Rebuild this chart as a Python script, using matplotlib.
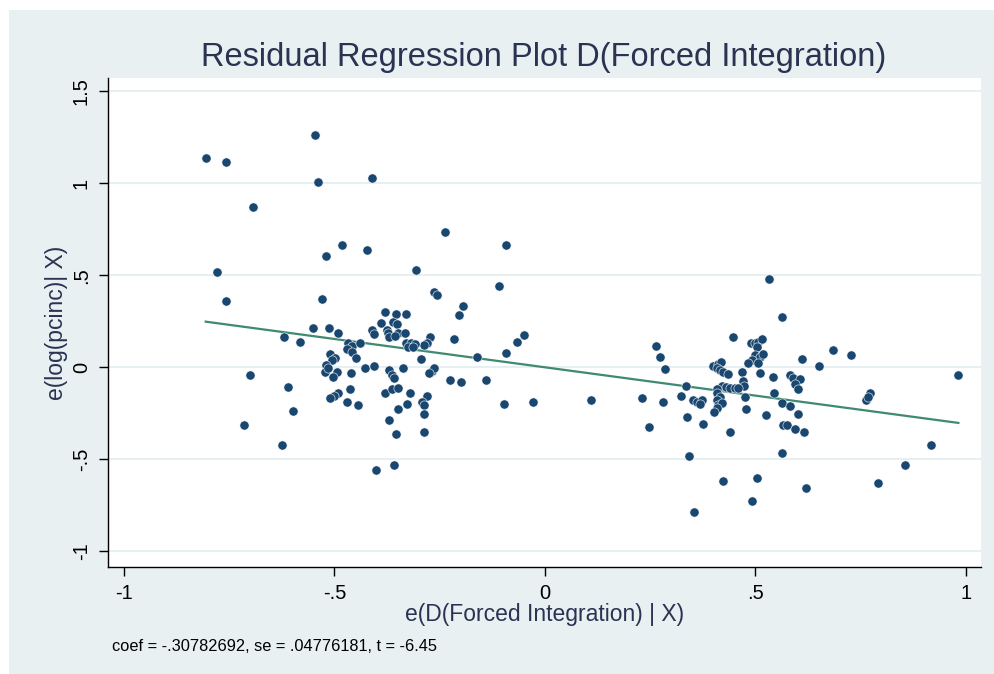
import numpy as np
import matplotlib.pyplot as plt
from matplotlib.patches import Rectangle

plt.rcParams["font.family"] = ["Liberation Sans", "DejaVu Sans"]

# residuals
x_resid = [
    -0.806, -0.758, -0.546, -0.539, -0.412, -0.694, -0.237, -0.778, -0.758, -0.519,
    -0.481, -0.423, -0.529, -0.306, -0.264, -0.257, -0.379, -0.353, -0.331,
    -0.092, -0.109, -0.194, -0.204, -0.215, -0.050, -0.067, -0.093, -0.162,
    -0.225, -0.199, -0.140, -0.098, -0.029, 0.110, 0.264, 0.273, 0.286,
    0.231, 0.280, 0.322, 0.334, 0.352, 0.360, 0.337,
    -0.619, -0.582, -0.550, -0.513, -0.491, -0.700, -0.610, -0.598, -0.716,
    -0.624, -0.401, -0.359,
    -0.361, -0.352, -0.390, -0.412, -0.407, -0.376, -0.372, -0.348, -0.333,
    -0.371, -0.356, -0.274, -0.281, -0.287, -0.331, -0.318, -0.309, -0.325,
    -0.313, -0.467, -0.459, -0.439, -0.471, -0.459, -0.449, -0.511, -0.499,
    -0.507, -0.519, -0.523, -0.515, -0.495, -0.503, -0.461, -0.428, -0.406,
    -0.371, -0.363, -0.358, -0.337, -0.295, -0.269, -0.264, -0.275, -0.462,
    -0.491, -0.500, -0.511, -0.470, -0.443, -0.380, -0.364, -0.348, -0.321,
    -0.281, -0.293, -0.287, -0.327, -0.350, -0.287, -0.370, -0.354, -0.287,
    0.531, 0.562, 0.446, 0.489, 0.499, 0.507, 0.515, 0.503, 0.610, 0.499,
    0.511, 0.517, 0.491, 0.483, 0.507, 0.511, 0.400, 0.410, 0.418, 0.408,
    0.416, 0.424, 0.435, 0.467, 0.471, 0.473, 0.541, 0.582, 0.590, 0.606,
    0.595, 0.602, 0.420, 0.430, 0.409, 0.439, 0.451, 0.459, 0.408, 0.416,
    0.408, 0.475, 0.545, 0.372, 0.368, 0.412, 0.420, 0.408, 0.401, 0.477,
    0.562, 0.582, 0.600, 0.524, 0.376, 0.248, 0.439, 0.566, 0.574, 0.594,
    0.615, 0.343, 0.562, 0.424, 0.503, 0.492, 0.355, 0.619,
    0.683, 0.726, 0.652, 0.982, 0.772, 0.762, 0.768, 0.918, 0.854, 0.790,
]
y_resid = [
    1.139, 1.116, 1.261, 1.005, 1.029, 0.871, 0.737, 0.516, 0.360, 0.603,
    0.663, 0.639, 0.371, 0.529, 0.409, 0.395, 0.299, 0.290, 0.290,
    0.663, 0.442, 0.333, 0.284, 0.152, 0.176, 0.138, 0.078, 0.054,
    -0.069, -0.080, -0.069, -0.201, -0.189, -0.178, 0.116, 0.054, -0.008,
    -0.167, -0.189, -0.154, -0.102, -0.178, -0.187, -0.272,
    0.163, 0.138, 0.212, 0.212, 0.188, -0.043, -0.105, -0.239, -0.312,
    -0.422, -0.556, -0.531,
    0.246, 0.235, 0.239, 0.203, 0.181, 0.203, 0.185, 0.185, 0.188,
    0.163, 0.170, 0.166, 0.134, 0.121, 0.130, 0.130, 0.127, 0.109,
    0.109, 0.130, 0.116, 0.134, 0.099, 0.085, 0.052, 0.071, 0.049,
    0.040, 0.013, -0.024, -0.005, -0.024, -0.054, -0.029, -0.005, 0.007,
    -0.015, -0.042, -0.060, -0.005, 0.043, -0.018, -0.005, -0.033, -0.118,
    -0.138, -0.156, -0.165, -0.190, -0.205, -0.138, -0.118, -0.114, -0.141,
    -0.154, -0.187, -0.205, -0.201, -0.225, -0.254, -0.286, -0.362, -0.350,
    0.480, 0.273, 0.163, 0.130, 0.130, 0.139, 0.154, 0.109, 0.043, 0.067,
    0.058, 0.071, 0.040, 0.022, 0.022, -0.033, 0.007, 0.018, 0.030, -0.005,
    -0.015, -0.024, -0.036, -0.027, -0.073, -0.102, -0.054, -0.042, -0.060, -0.065,
    -0.092, -0.120, -0.102, -0.109, -0.120, -0.114, -0.114, -0.114, -0.141, -0.160,
    -0.178, -0.160, -0.138, -0.178, -0.199, -0.205, -0.196, -0.223, -0.241, -0.228,
    -0.192, -0.209, -0.254, -0.261, -0.310, -0.323, -0.350, -0.312, -0.314, -0.335,
    -0.350, -0.482, -0.467, -0.616, -0.603, -0.725, -0.785, -0.654,
    0.092, 0.067, 0.005, -0.043, -0.138, -0.178, -0.160, -0.421, -0.531, -0.629,
]

coef = -.30782692
se = .04776181
t_stat = -6.45

x_ticks = [-1, -0.5, 0, 0.5, 1]
x_ticklabels = ["-1", "-.5", "0", ".5", "1"]
y_ticks = [-1, -0.5, 0, 0.5, 1, 1.5]
y_ticklabels = ["-1", "-.5", "0", ".5", "1", "1.5"]

navy = "#1a476f"
fit_green = "#3f8a70"
bg = "#e8f0f2"
txt = "#2a3352"

fig = plt.figure(figsize=(9.94, 6.74), dpi=100, facecolor="white")
fig.patches.append(Rectangle((9 / 994, 0), 1 - 9 / 994, 1 - 10 / 674,
                             transform=fig.transFigure, facecolor=bg,
                             edgecolor="none", zorder=-10))

ax = fig.add_axes([108 / 994, 1 - 567.3 / 674, 872.7 / 994, 489.6 / 674])
ax.set_facecolor("white")

ax.scatter(x_resid, y_resid, s=44, color=navy, edgecolors="white",
           linewidths=0.4, zorder=3)

xs = np.array([min(x_resid), max(x_resid)])
ax.plot(xs, coef * xs, color=fit_green, lw=1.6, zorder=2)

ax.set_xlim(-1.038, 1.035)
ax.set_ylim(-1.087, 1.574)
ax.set_xticks(x_ticks)
ax.set_xticklabels(x_ticklabels)
ax.set_yticks(y_ticks)
ax.set_yticklabels(y_ticklabels, rotation=90, va="center")
ax.tick_params(axis="both", direction="out", length=6.3, width=1.0,
               labelsize=14.5, colors="black", pad=6)
ax.grid(axis="y", color="#e6eff1", lw=1.4)
ax.set_axisbelow(True)

for side in ["top", "right"]:
    ax.spines[side].set_visible(False)
for side in ["left", "bottom"]:
    ax.spines[side].set_linewidth(1.0)

ax.set_xlabel("e(D(Forced Integration) | X)", fontsize=16.5, color=txt, labelpad=0)
ax.set_ylabel("e(log(pcinc)| X)", fontsize=16.5, color=txt, labelpad=3)

fig.text(544 / 994, 1 - 66 / 674, "Residual Regression Plot D(Forced Integration)",
         ha="center", va="baseline", fontsize=23.5, color=txt)
fig.text(112 / 994, 1 - 651 / 674,
         "coef = %s, se = %s, t = %s" % ("-.30782692", ".04776181", "-6.45"),
         ha="left", va="baseline", fontsize=11.8, color="black")

fig.savefig("out.png", dpi=100, facecolor=fig.get_facecolor())
